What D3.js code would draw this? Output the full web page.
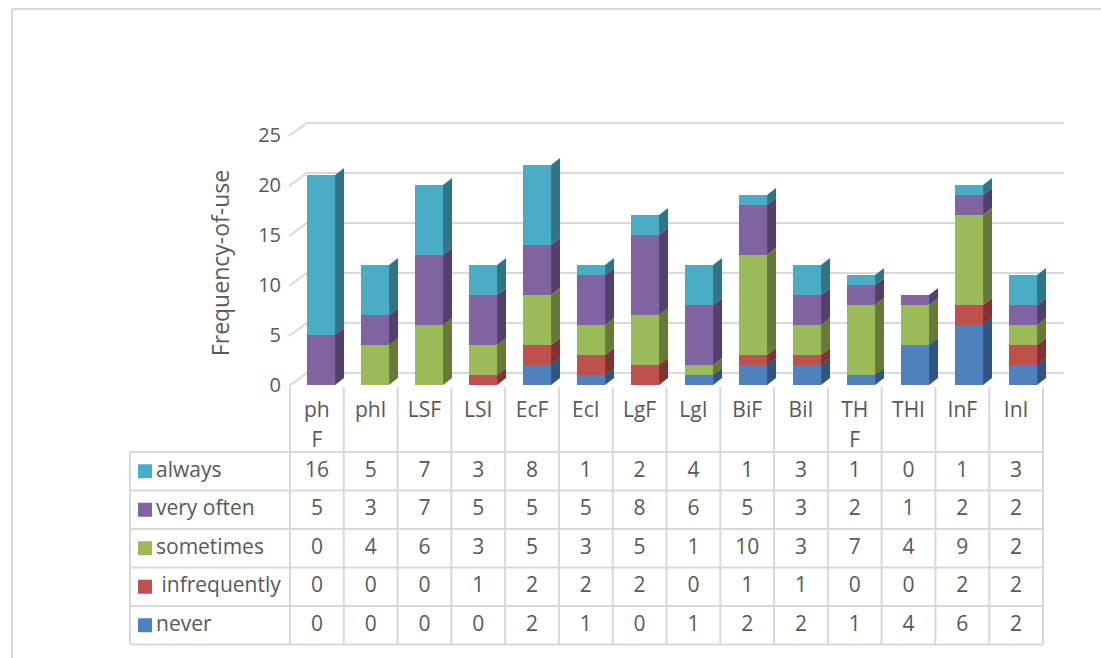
<!DOCTYPE html>
<html>
<head>
<meta charset="utf-8">
<script src="https://cdn.jsdelivr.net/npm/d3@7"></script>
<style>
  body { margin: 0; background: #fff; }
  svg { display: block; font-family: "Open Sans", "Noto Sans", sans-serif; }
</style>
</head>
<body>
<svg id="chart" width="1101" height="658"></svg>
<script>
var categories = ["ph\nF", "phI", "LSF", "LSI", "EcF", "EcI", "LgF", "LgI", "BiF", "BiI", "TH\nF", "THI", "InF", "InI"];
var seriesNames = ["always", "very often", "sometimes", " infrequently", "never"];
var always     = [16, 5, 7, 3, 8, 1, 2, 4, 1, 3, 1, 0, 1, 3];
var veryOften  = [5, 3, 7, 5, 5, 5, 8, 6, 5, 3, 2, 1, 2, 2];
var sometimes  = [0, 4, 6, 3, 5, 3, 5, 1, 10, 3, 7, 4, 9, 2];
var infrequent = [0, 0, 0, 1, 2, 2, 2, 0, 1, 1, 0, 0, 2, 2];
var never      = [0, 0, 0, 0, 2, 1, 0, 1, 2, 2, 1, 4, 6, 2];
var yTicks = [0, 5, 10, 15, 20, 25];

var tableRows = [always, veryOften, sometimes, infrequent, never];
var front = ["#4BACC6", "#8064A2", "#9BBB59", "#C0504D", "#4F81BD"];
var side  = ["#327384", "#52416b", "#657a3a", "#7e3432", "#33547c"];
var top_  = ["#3a8599", "#654f82", "#7c9647", "#9a403d", "#3f679a"];
var grid = "#d9d9d9", txt = "#595959";
var fs = 21;

var svg = d3.select("#chart");

// outer frame
svg.append("line").attr("x1", 12).attr("y1", 9).attr("x2", 1101).attr("y2", 9)
   .attr("stroke", grid).attr("stroke-width", 2);
svg.append("line").attr("x1", 12).attr("y1", 9).attr("x2", 12).attr("y2", 658)
   .attr("stroke", grid).attr("stroke-width", 2);

var y = d3.scaleLinear().domain([0, 25]).range([385, 135]);
var xb = d3.scaleBand().domain(d3.range(categories.length)).range([294, 1050])
           .paddingInner(0.48).paddingOuter(0.24);
var xc = d3.scaleBand().domain(d3.range(categories.length)).range([290, 1043]);
var dx = 9, dy = -7;      // bar depth
var wdx = 18, wdy = -13;  // back wall offset

// back wall gridlines
var g = svg.append("g");
yTicks.forEach(function(v) {
  g.append("polyline")
   .attr("points", [[289, y(v) + 1], [289 + wdx, y(v) + 1 + wdy], [1064, y(v) + 1 + wdy]].join(" "))
   .attr("fill", "none").attr("stroke", grid).attr("stroke-width", 2);
  g.append("text").attr("x", 281).attr("y", y(v) + 2)
   .attr("text-anchor", "end").attr("dominant-baseline", "middle")
   .attr("font-size", 20).attr("fill", txt).text(v);
});

svg.append("text")
   .attr("transform", "translate(229,263) rotate(-90)")
   .attr("text-anchor", "middle").attr("font-size", 23).attr("fill", txt)
   .text("Frequency-of-use");

// stacked 3d bars, bottom series first
var bars = svg.append("g");
categories.forEach(function(c, i) {
  var x0 = xb(i), w = xb.bandwidth();
  var base = 0;
  var lastTop = -1;
  for (var s = tableRows.length - 1; s >= 0; s--) if (tableRows[s][i] > 0) { lastTop = s; break; }
  for (var s = tableRows.length - 1; s >= 0; s--) {
    var v = tableRows[s][i];
    if (v <= 0) continue;
    var yb = y(base), yt = y(base + v);
    bars.append("rect").attr("x", x0).attr("y", yt).attr("width", w).attr("height", yb - yt)
        .attr("fill", front[s]);
    bars.append("polygon")
        .attr("points", [[x0 + w, yb], [x0 + w + dx, yb + dy], [x0 + w + dx, yt + dy], [x0 + w, yt]].join(" "))
        .attr("fill", side[s]);
    if (s === lastTop) {
      bars.append("polygon")
          .attr("points", [[x0, yt], [x0 + dx, yt + dy], [x0 + w + dx, yt + dy], [x0 + w, yt]].join(" "))
          .attr("fill", top_[s]);
    }
    base += v;
  }
});

// data table
var t = svg.append("g");
var rowTop = 452, rowH = 38.5, left = 130;
var nRows = tableRows.length;
var bottom = rowTop + nRows * rowH;
for (var r = 0; r <= nRows; r++) {
  t.append("line").attr("x1", left).attr("x2", xc.range()[1])
   .attr("y1", rowTop + r * rowH).attr("y2", rowTop + r * rowH)
   .attr("stroke", grid).attr("stroke-width", 2);
}
t.append("line").attr("x1", left).attr("x2", left).attr("y1", rowTop).attr("y2", bottom)
 .attr("stroke", grid).attr("stroke-width", 2);
for (var i = 0; i <= categories.length; i++) {
  var xx = i < categories.length ? xc(i) : xc.range()[1];
  t.append("line").attr("x1", xx).attr("x2", xx).attr("y1", 387).attr("y2", bottom)
   .attr("stroke", grid).attr("stroke-width", 2);
}
categories.forEach(function(c, i) {
  var lines = c.split("\n");
  lines.forEach(function(l, k) {
    t.append("text").attr("x", xc(i) + xc.bandwidth() / 2).attr("y", 411 + k * 30)
     .attr("text-anchor", "middle").attr("dominant-baseline", "middle")
     .attr("font-size", fs).attr("fill", txt).text(l);
  });
});
tableRows.forEach(function(row, r) {
  var cy = rowTop + r * rowH + rowH / 2;
  t.append("rect").attr("x", 138).attr("y", cy - 7).attr("width", 14).attr("height", 14)
   .attr("fill", front[r]);
  t.append("text").attr("x", 156).attr("y", cy).attr("dominant-baseline", "middle")
   .attr("font-size", fs).attr("fill", txt).attr("xml:space", "preserve").text(seriesNames[r]);
  row.forEach(function(v, i) {
    t.append("text").attr("x", xc(i) + xc.bandwidth() / 2).attr("y", cy)
     .attr("text-anchor", "middle").attr("dominant-baseline", "middle")
     .attr("font-size", fs).attr("fill", txt).text(v);
  });
});
</script>
</body>
</html>
